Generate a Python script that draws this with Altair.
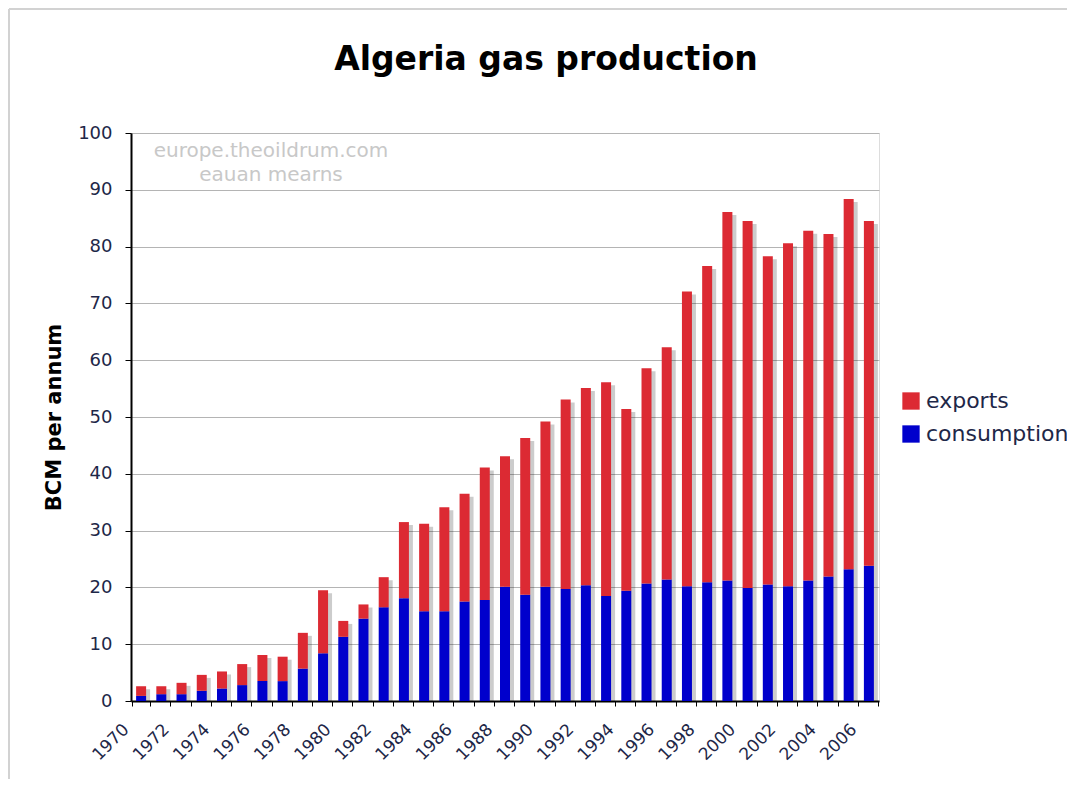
import altair as alt
import pandas as pd

years = list(range(1970, 2007))
total = [2.6, 2.6, 3.2, 4.6, 5.2, 6.5, 8.1, 7.8, 12.0, 19.5, 14.1, 17.0, 21.8,
         31.5, 31.2, 34.1, 36.5, 41.1, 43.1, 46.3, 49.2, 53.1, 55.1, 56.1, 51.4, 58.6, 62.3,
         72.1, 76.6, 86.1, 84.5, 78.3, 80.6, 82.8, 82.2, 88.4, 84.5]
consumption = [0.9, 1.2, 1.2, 1.8, 2.2, 2.8, 3.5, 3.5, 5.7, 8.4, 11.3, 14.5, 16.5,
               18.1, 15.8, 15.8, 17.5, 17.8, 20.1, 18.7, 20.1, 19.7, 20.4, 18.5, 19.4, 20.7, 21.4,
               20.2, 20.9, 21.2, 19.9, 20.5, 20.2, 21.2, 21.9, 23.2, 23.8]
exports = [round(t - c, 2) for t, c in zip(total, consumption)]
series = ["exports", "consumption"]
colors = ["#dc2a33", "#0000cc"]

rows = []
for y, c, e in zip(years, consumption, exports):
    rows.append({"year": y, "series": "consumption", "value": c, "ord": 0})
    rows.append({"year": y, "series": "exports", "value": e, "ord": 1})
df = pd.DataFrame(rows)
tot_df = pd.DataFrame({"year": years, "total": total})

W, H = 748, 568
FONT = "DejaVu Sans"
LABEL_COLOR = "#1e2748"

x_enc = alt.X("year:O", title=None,
              axis=alt.Axis(labelAngle=-45, labelAlign="right", labelBaseline="top",
                            labelOffset=-21, labelPadding=15,
                            labelExpr="datum.value % 2 == 0 ? datum.label : ''",
                            tickBand="extent", tickSize=5, tickColor="black",
                            domainColor="black", domainWidth=2,
                            labelFont=FONT, labelFontSize=17, labelColor=LABEL_COLOR))
y_scale = alt.Scale(domain=[0, 100], nice=False)

shadow = alt.Chart(tot_df).mark_bar(size=10, color="#000000", opacity=0.2,
                                    xOffset=4, yOffset=3, clip=True).encode(
    x=x_enc,
    y=alt.Y("total:Q", scale=y_scale),
)

bars = alt.Chart(df).mark_bar(size=10).encode(
    x=x_enc,
    y=alt.Y("value:Q", stack="zero", scale=y_scale, title="BCM per annum",
            axis=alt.Axis(values=list(range(0, 101, 10)), tickSize=6, tickColor="black",
                          domainColor="black", domainWidth=2, labelPadding=13,
                          labelFont=FONT, labelFontSize=18, labelColor=LABEL_COLOR,
                          grid=True, gridColor="#b4b4b4", gridWidth=1,
                          titleFont=FONT, titleFontSize=21, titleFontWeight="bold",
                          titleColor="black", titleAngle=-90, titleX=-77, titleY=284,
                          titleAlign="center", titleBaseline="middle")),
    color=alt.Color("series:N", scale=alt.Scale(domain=series, range=colors),
                    legend=alt.Legend(title=None, orient="none", legendX=769, legendY=257,
                                      symbolType="square", symbolSize=300,
                                      symbolStrokeWidth=0, labelFont=FONT,
                                      labelFontSize=22, labelColor=LABEL_COLOR,
                                      labelOffset=4, rowPadding=11)),
    order=alt.Order("ord:Q"),
)

wm = alt.Chart(pd.DataFrame({"t": ["europe.theoildrum.com\neauan mearns"]})).mark_text(
    font=FONT, fontSize=20, color="#c8c8c8", align="center", baseline="top",
    lineBreak="\n", lineHeight=24).encode(
    text="t:N", x=alt.value(140), y=alt.value(8))

frame_top = alt.Chart(pd.DataFrame({"a": [0]})).mark_rule(color="#d2d2d2", strokeWidth=2).encode(
    x=alt.value(-122), x2=alt.value(1075 - 131), y=alt.value(-124))
frame_left = alt.Chart(pd.DataFrame({"a": [0]})).mark_rule(color="#d2d2d2", strokeWidth=2).encode(
    x=alt.value(-122), y=alt.value(-124), y2=alt.value(787 - 133))

chart = alt.layer(frame_top, frame_left, shadow, bars, wm).properties(
    width=W, height=H,
    title=alt.Title("Algeria gas production", font=FONT, fontSize=33, fontWeight="bold",
                    color="black", anchor="middle", dx=41, offset=-95,
                    baseline="alphabetic"),
    autosize=alt.AutoSizeParams(type="none"),
    padding={"left": 123, "top": 125, "right": 188, "bottom": 78},
).configure_view(
    fill="#e5e5e5", stroke="#999999", strokeWidth=2
).configure(background="white")

chart.save("out.html", embed_options={"renderer": "svg", "actions": False})
